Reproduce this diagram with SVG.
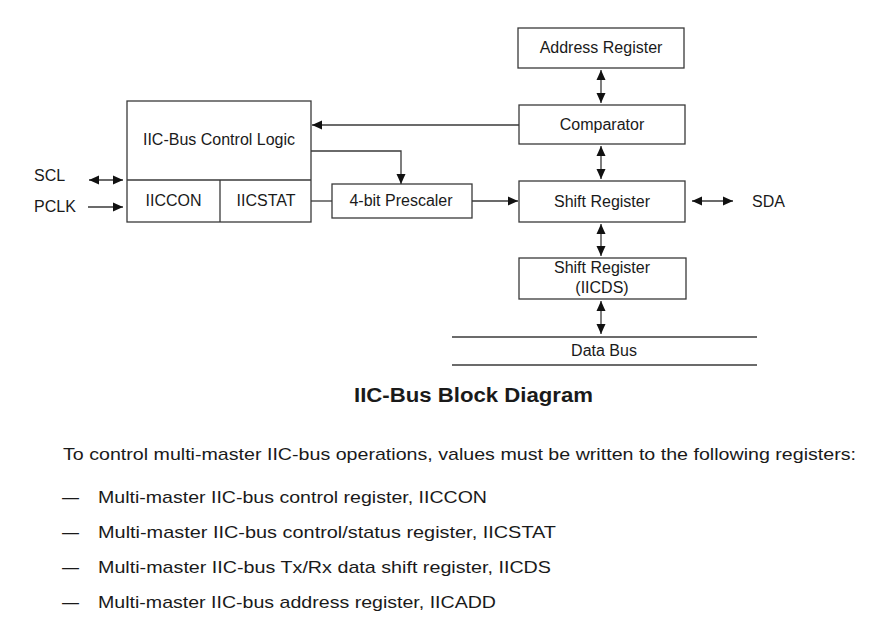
<svg xmlns="http://www.w3.org/2000/svg" width="870" height="619" viewBox="0 0 870 619">
<style>
.box{fill:#fff;stroke:#3a3a3a;stroke-width:1.3}
.ln{fill:none;stroke:#3a3a3a;stroke-width:1.3}
.t{font-family:"Liberation Sans",Arial,sans-serif;font-size:16px;fill:#1a1a1a}
.c{text-anchor:middle}
.body{font-family:"Liberation Sans",Arial,sans-serif;font-size:17px;fill:#1a1a1a}
.title{font-family:"Liberation Sans",Arial,sans-serif;font-size:20px;font-weight:bold;fill:#1a1a1a}
</style>
<defs>
<marker id="ah" viewBox="0 0 10 10" refX="10" refY="5" markerWidth="10" markerHeight="10" orient="auto-start-reverse" markerUnits="userSpaceOnUse">
<path d="M0,0.5 L10,5 L0,9.5 z" fill="#111"/>
</marker>
</defs>
<rect width="870" height="619" fill="#fff"/>

<g id="control-logic">
<rect class="box" x="127" y="101" width="184" height="121"/>
<line class="ln" x1="127" y1="180" x2="311" y2="180"/>
<line class="ln" x1="220" y1="180" x2="220" y2="222"/>
<text class="t c" x="219" y="145">IIC-Bus Control Logic</text>
<text class="t c" x="173.5" y="206">IICCON</text>
<text class="t c" x="266" y="206">IICSTAT</text>
</g>

<g id="prescaler">
<rect class="box" x="332" y="184" width="140" height="34"/>
<text class="t c" x="401" y="206">4-bit Prescaler</text>
</g>

<g id="address-register">
<rect class="box" x="518" y="28" width="166" height="40"/>
<text class="t c" x="601" y="53">Address Register</text>
</g>

<g id="comparator">
<rect class="box" x="519" y="105" width="166" height="39"/>
<text class="t c" x="602" y="130">Comparator</text>
</g>

<g id="shift-register">
<rect class="box" x="519" y="181" width="166" height="41"/>
<text class="t c" x="602" y="207">Shift Register</text>
</g>

<g id="iicds">
<rect class="box" x="519" y="258" width="167" height="41"/>
<text class="t c" x="602" y="273">Shift Register</text>
<text class="t c" x="602" y="293">(IICDS)</text>
</g>

<g id="data-bus">
<line class="ln" x1="452" y1="337" x2="757" y2="337"/>
<line class="ln" x1="452" y1="365" x2="757" y2="365"/>
<text class="t c" x="604" y="356">Data Bus</text>
</g>

<g id="labels">
<text class="t" x="34" y="181">SCL</text>
<text class="t" x="34" y="212">PCLK</text>
<text class="t" x="752" y="207">SDA</text>
</g>

<g id="connectors">
<line class="ln" x1="89" y1="180" x2="123" y2="180" marker-start="url(#ah)" marker-end="url(#ah)"/>
<line class="ln" x1="88" y1="207" x2="123" y2="207" marker-end="url(#ah)"/>
<line class="ln" x1="519" y1="125" x2="312" y2="125" marker-end="url(#ah)"/>
<polyline class="ln" points="311,151 401,151 401,184" marker-end="url(#ah)"/>
<line class="ln" x1="311" y1="201" x2="332" y2="201"/>
<line class="ln" x1="472" y1="201" x2="518" y2="201" marker-end="url(#ah)"/>
<line class="ln" x1="692" y1="201" x2="733" y2="201" marker-start="url(#ah)" marker-end="url(#ah)"/>
<line class="ln" x1="601" y1="70" x2="601" y2="103" marker-start="url(#ah)" marker-end="url(#ah)"/>
<line class="ln" x1="601" y1="146" x2="601" y2="179" marker-start="url(#ah)" marker-end="url(#ah)"/>
<line class="ln" x1="601" y1="224" x2="601" y2="256" marker-start="url(#ah)" marker-end="url(#ah)"/>
<line class="ln" x1="601" y1="301" x2="601" y2="334" marker-start="url(#ah)" marker-end="url(#ah)"/>
</g>

<text class="title" x="354" y="402" textLength="239" lengthAdjust="spacingAndGlyphs">IIC-Bus Block Diagram</text>
<text class="body" x="63" y="460" textLength="793" lengthAdjust="spacingAndGlyphs">To control multi-master IIC-bus operations, values must be written to the following registers:</text>
<text class="body" x="62" y="503">—</text>
<text class="body" x="98" y="503" textLength="389" lengthAdjust="spacingAndGlyphs">Multi-master IIC-bus control register, IICCON</text>
<text class="body" x="62" y="538">—</text>
<text class="body" x="98" y="538" textLength="458" lengthAdjust="spacingAndGlyphs">Multi-master IIC-bus control/status register, IICSTAT</text>
<text class="body" x="62" y="573">—</text>
<text class="body" x="98" y="573" textLength="453" lengthAdjust="spacingAndGlyphs">Multi-master IIC-bus Tx/Rx data shift register, IICDS</text>
<text class="body" x="62" y="608">—</text>
<text class="body" x="98" y="608" textLength="398" lengthAdjust="spacingAndGlyphs">Multi-master IIC-bus address register, IICADD</text>
</svg>
